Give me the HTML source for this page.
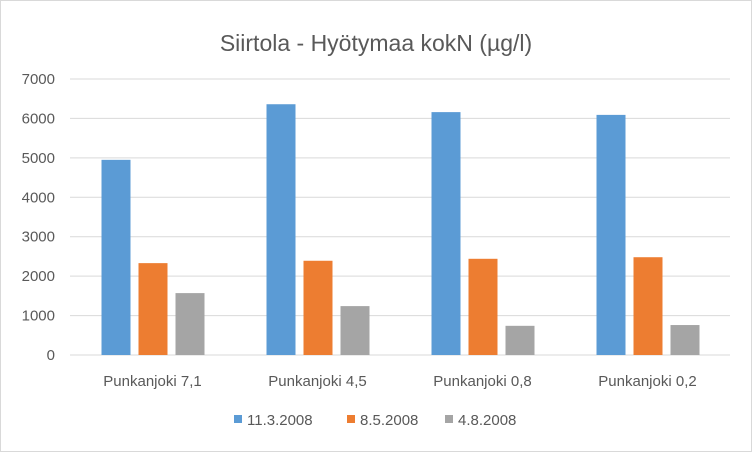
<!DOCTYPE html>
<html><head><meta charset="utf-8"><style>
body{margin:0;background:#fff}
svg{display:block;font-family:"Liberation Sans",sans-serif}
</style></head><body>
<svg width="752" height="452">
<rect x="0.5" y="0.5" width="751" height="451" fill="#fff" stroke="#d9d9d9"/>
<text x="376" y="51" text-anchor="middle" font-size="23" fill="#595959">Siirtola - Hyötymaa kokN (µg/l)</text>
<g id="grid"></g><g id="bars"></g><g id="labels"></g>
<g>
<rect x="234" y="415" width="8" height="8" fill="#5b9bd5"/>
<text x="247" y="425" font-size="15" fill="#595959">11.3.2008</text>
<rect x="347" y="415" width="8" height="8" fill="#ed7d31"/>
<text x="360" y="425" font-size="15" fill="#595959">8.5.2008</text>
<rect x="445" y="415" width="8" height="8" fill="#a5a5a5"/>
<text x="458" y="425" font-size="15" fill="#595959">4.8.2008</text>
</g>
</svg>
<script>
const categories=["Punkanjoki 7,1","Punkanjoki 4,5","Punkanjoki 0,8","Punkanjoki 0,2"];
const s1=[4950,6360,6160,6090];
const s2=[2330,2390,2440,2480];
const s3=[1570,1240,740,760];
const ticks=[0,1000,2000,3000,4000,5000,6000,7000];
const colors=["#5b9bd5","#ed7d31","#a5a5a5"];
const names=["11-3-2008","8-5-2008","4-8-2008"];
const NS="http://www.w3.org/2000/svg";
const x0=70,x1=730,y0=355,y7=79,maxV=7000;
const y=v=>y0-(v/maxV)*(y0-y7);
const band=(x1-x0)/categories.length;
function mk(t,a,p){const e=document.createElementNS(NS,t);for(const k in a)e.setAttribute(k,a[k]);document.getElementById(p).appendChild(e);return e;}
ticks.forEach(t=>{
 const l=mk('line',{x1:x0,x2:x1,y1:y(t),y2:y(t),stroke:'#d9d9d9','stroke-width':1},'grid');
 
 
 const tx=mk('text',{x:55,y:y(t)+5,'text-anchor':'end','font-size':15,fill:'#595959'},'labels');
 tx.textContent=t;
 
 
});
const bw=29,gap=8;
[s1,s2,s3].forEach((s,si)=>{
 s.forEach((v,i)=>{
  const c=x0+band*(i+0.5);
  const bx=c-1.5*bw-gap+si*(bw+gap)+0.5;
  const r=mk('rect',{x:bx,y:y(v),width:bw,height:y0-y(v),fill:colors[si]},'bars');
  
  
 });
});
categories.forEach((c,i)=>{
 const tx=mk('text',{x:x0+band*(i+0.5),y:386,'text-anchor':'middle','font-size':15,fill:'#595959'},'labels');
 tx.textContent=c;
 
 
});
</script>
</body></html>
